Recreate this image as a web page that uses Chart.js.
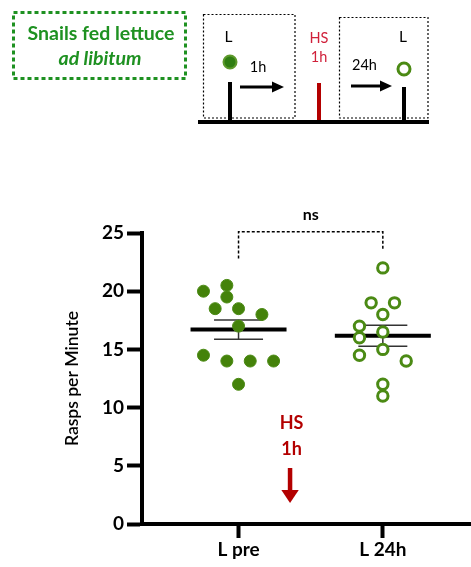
<!DOCTYPE html>
<html><head><meta charset="utf-8">
<script src="https://cdn.jsdelivr.net/npm/chart.js@4.4.1/dist/chart.umd.min.js"></script>
<style>html,body{margin:0;padding:0;background:#fff;} canvas{display:block;}</style>
</head><body>
<canvas id="c" width="471" height="567"></canvas>
<script>
// ---------- data ----------
const categories = ['L pre', 'L 24h'];
const lPreValues = [20.5, 20, 19.5, 18.5, 18.5, 18, 17, 14.5, 14, 14, 14, 12];
const l24hValues = [22, 19, 19, 18, 17, 16.5, 16, 15, 14.5, 14, 12, 11];
// beeswarm column index of each dot, as laid out in the figure
const lPreColumns = [-1, -3, -1, -2, 0, 2, 0, -3, -1, 1, 3, 0];
const l24hColumns = [0, -1, 1, 0, -2, 0, -2, 0, -2, 2, 0, 0];
const yTicks = [0, 5, 10, 15, 20, 25];
const yTitle = 'Rasps per Minute';
const significance = 'ns';

// ---------- helpers ----------
const mean = a => a.reduce((s, v) => s + v, 0) / a.length;
const sem = a => { const m = mean(a); return Math.sqrt(a.reduce((s, v) => s + (v - m) ** 2, 0) / (a.length - 1)) / Math.sqrt(a.length); };
const COL = 0.081;
const groups = [lPreValues, l24hValues];
const means = groups.map(mean);
const sems = groups.map(sem);
const GREEN = '#44820a';
const FONT = 'Lato';

// ---------- plugins ----------
const schemePlugin = {
  id: 'scheme',
  afterDraw(chart) {
    const ctx = chart.ctx;
    ctx.save();
    // green dashed box
    ctx.strokeStyle = '#1e9121'; ctx.lineWidth = 3; ctx.setLineDash([4, 3]);
    ctx.strokeRect(13.5, 12.5, 172, 66);
    ctx.setLineDash([]);
    ctx.fillStyle = '#1e9121'; ctx.textAlign = 'center'; ctx.textBaseline = 'alphabetic';
    ctx.font = 'bold 19.5px ' + FONT; ctx.fillText('Snails fed lettuce', 101, 40);
    ctx.font = 'italic bold 19.5px ' + FONT; ctx.fillText('ad libitum', 100, 64.5);
    // dotted boxes
    ctx.strokeStyle = '#000'; ctx.lineWidth = 1.2; ctx.setLineDash([2, 2]);
    ctx.strokeRect(203.5, 14.5, 91.5, 103.5);
    ctx.strokeRect(339.5, 17.5, 88.5, 100.5);
    ctx.setLineDash([]);
    // baseline and stems
    ctx.lineWidth = 4; ctx.strokeStyle = '#000';
    ctx.beginPath(); ctx.moveTo(198, 122); ctx.lineTo(429, 122); ctx.stroke();
    ctx.beginPath(); ctx.moveTo(230, 82); ctx.lineTo(230, 122); ctx.stroke();
    ctx.beginPath(); ctx.moveTo(404, 87); ctx.lineTo(404, 122); ctx.stroke();
    ctx.strokeStyle = '#b30000';
    ctx.beginPath(); ctx.moveTo(319, 83); ctx.lineTo(319, 120); ctx.stroke();
    // arrows
    const arrow = (x1, x2, y) => {
      ctx.strokeStyle = '#000'; ctx.fillStyle = '#000'; ctx.lineWidth = 3;
      ctx.beginPath(); ctx.moveTo(x1, y); ctx.lineTo(x2 - 10, y); ctx.stroke();
      ctx.beginPath(); ctx.moveTo(x2, y); ctx.lineTo(x2 - 12, y - 5.5); ctx.lineTo(x2 - 12, y + 5.5); ctx.closePath(); ctx.fill();
    };
    arrow(240, 284, 87);
    arrow(351, 392, 86);
    // circles
    ctx.beginPath(); ctx.arc(230, 62, 6.5, 0, Math.PI * 2);
    ctx.fillStyle = '#2f7d12'; ctx.fill(); ctx.lineWidth = 2; ctx.strokeStyle = '#5e9a2c'; ctx.stroke();
    ctx.beginPath(); ctx.arc(404, 69, 6, 0, Math.PI * 2);
    ctx.lineWidth = 3; ctx.strokeStyle = '#4b8a14'; ctx.stroke();
    // labels
    ctx.textBaseline = 'middle'; ctx.fillStyle = '#000';
    ctx.font = '15.5px ' + FONT;
    ctx.fillText('L', 228.5, 36.5);
    ctx.fillText('L', 403, 37);
    ctx.font = '14.5px ' + FONT;
    ctx.fillText('1h', 258, 67);
    ctx.fillText('24h', 364.5, 65);
    ctx.fillStyle = '#d0203a';
    ctx.fillText('HS', 319, 38);
    ctx.fillText('1h', 319, 57.5);
    ctx.restore();
  }
};

const annotPlugin = {
  id: 'annot',
  afterDraw(chart) {
    const ctx = chart.ctx, x = chart.scales.x, y = chart.scales.y;
    ctx.save();
    // significance bracket
    const xa = x.getPixelForValue(1), xb = x.getPixelForValue(2);
    const yt = y.getPixelForValue(25.1);
    ctx.strokeStyle = '#000'; ctx.lineWidth = 1.5; ctx.setLineDash([3, 2]);
    ctx.beginPath();
    ctx.moveTo(xa, y.getPixelForValue(22.8)); ctx.lineTo(xa, yt); ctx.lineTo(xb, yt); ctx.lineTo(xb, y.getPixelForValue(23.6));
    ctx.stroke();
    ctx.setLineDash([]);
    ctx.fillStyle = '#000'; ctx.textAlign = 'center'; ctx.textBaseline = 'middle';
    ctx.font = 'bold 16px ' + FONT;
    ctx.fillText(significance, (xa + xb) / 2, yt - 17);
    // HS 1h marker
    const xh = x.getPixelForValue(1.357);
    ctx.fillStyle = '#b30000';
    ctx.font = 'bold 18px ' + FONT;
    ctx.fillText('HS', xh + 1.5, y.getPixelForValue(8.68));
    ctx.fillText('1h', xh + 1.5, y.getPixelForValue(6.44));
    ctx.strokeStyle = '#b30000'; ctx.lineWidth = 4.5;
    ctx.beginPath(); ctx.moveTo(xh, y.getPixelForValue(4.81)); ctx.lineTo(xh, y.getPixelForValue(2.92)); ctx.stroke();
    ctx.beginPath();
    ctx.moveTo(xh - 8.7, y.getPixelForValue(2.92)); ctx.lineTo(xh + 8.7, y.getPixelForValue(2.92)); ctx.lineTo(xh, y.getPixelForValue(1.8));
    ctx.closePath(); ctx.fill();
    ctx.restore();
  }
};

// ---------- chart ----------
new Chart(document.getElementById('c'), {
  type: 'scatter',
  data: {
    datasets: [
      { label: categories[0], data: lPreValues.map((v, i) => ({ x: 1 + lPreColumns[i] * COL, y: v })),
        backgroundColor: GREEN, borderColor: '#4b8a14', borderWidth: 1, pointRadius: 6, order: 0 },
      { label: categories[1], data: l24hValues.map((v, i) => ({ x: 2 + l24hColumns[i] * COL, y: v })),
        backgroundColor: '#fff', borderColor: '#4b8a14', borderWidth: 3, pointRadius: 5.2, order: 0 },
      { label: 'mean', data: means.map((m, i) => ({ x: i + 1, y: m })),
        pointStyle: 'line', pointRadius: 48, borderWidth: 4, borderColor: '#000', order: 3 },
      { label: 'sem caps', data: means.flatMap((m, i) => [{ x: i + 1, y: m + sems[i] }, { x: i + 1, y: m - sems[i] }]),
        pointStyle: 'line', pointRadius: 24.5, borderWidth: 1.5, borderColor: '#333', order: 2 },
      ...means.map((m, i) => ({ type: 'line', label: 'sem ' + i,
        data: [{ x: i + 1, y: m - sems[i] }, { x: i + 1, y: m + sems[i] }],
        borderColor: '#333', borderWidth: 1.5, pointRadius: 0, order: 2 }))
    ]
  },
  options: {
    responsive: false, animation: false, devicePixelRatio: 1,
    layout: { autoPadding: false, padding: { top: 233, left: 0, right: 0, bottom: 0 } },
    plugins: { legend: { display: false }, tooltip: { enabled: false } },
    scales: {
      x: {
        type: 'linear', min: 0.331, max: 2.611,
        afterBuildTicks: s => { s.ticks = categories.map((c, i) => ({ value: i + 1 })); },
        afterFit: s => { s.height = 43; },
        ticks: { callback: v => categories[Math.round(v) - 1], color: '#000', autoSkip: false, maxRotation: 0,
          font: { family: FONT, weight: 'bold', size: 19 }, padding: 0 },
        grid: { drawOnChartArea: false, drawTicks: true, tickLength: 14, tickWidth: 4, tickColor: '#000' },
        border: { display: true, color: '#000', width: 4 }
      },
      y: {
        min: 0, max: 25,
        afterBuildTicks: s => { s.ticks = yTicks.map(v => ({ value: v })); },
        afterFit: s => { s.width = 142; },
        ticks: { color: '#000', font: { family: FONT, weight: 'bold', size: 19 }, padding: 3 },
        grid: { drawOnChartArea: false, drawTicks: true, tickLength: 15, tickWidth: 4, tickColor: '#000' },
        border: { display: true, color: '#000', width: 4 },
        title: { display: true, text: yTitle, color: '#000', font: { family: FONT, size: 17.5, weight: '600' }, padding: { top: 62, bottom: 0 } }
      }
    }
  },
  plugins: [schemePlugin, annotPlugin]
});
</script>
</body></html>
